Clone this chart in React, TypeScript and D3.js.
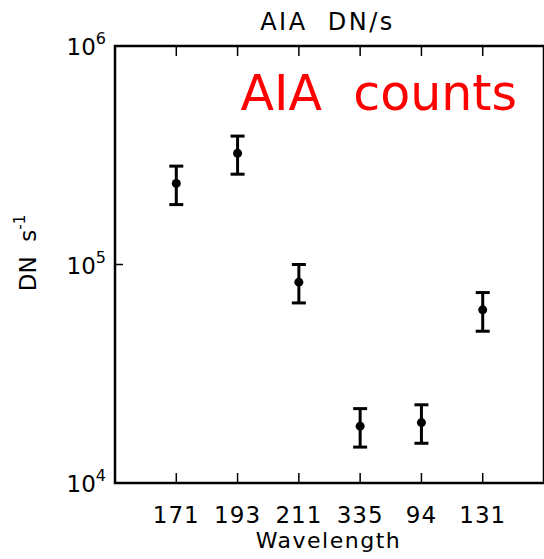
import * as d3 from "d3";

const wavelengths = ["171", "193", "211", "335", "94", "131"];
const counts = [2.35e5, 3.23e5, 8.3e4, 1.82e4, 1.89e4, 6.2e4];
const upper = [2.82e5, 3.87e5, 1.0e5, 2.19e4, 2.28e4, 7.44e4];
const lower = [1.88e5, 2.59e5, 6.67e4, 1.46e4, 1.52e4, 4.95e4];
const yTicks = [1e4, 1e5, 1e6];

const W = 544;
const H = 559;
const margin = { top: 46, right: 0, bottom: 76, left: 115 };
const font = "'DejaVu Sans', sans-serif";

export default function App() {
  const x = d3
    .scaleLinear()
    .domain([0, wavelengths.length + 1])
    .range([margin.left, W - margin.right]);
  const y = d3
    .scaleLog()
    .domain([1e4, 1e6])
    .range([H - margin.bottom, margin.top]);

  const left = x.range()[0];
  const right = x.range()[1];
  const top = y.range()[1];
  const bottom = y.range()[0];
  const midX = (left + right) / 2;

  return (
    <svg
      width={W}
      height={H}
      style={{ position: "absolute", left: 0, top: 0, background: "#fff" }}
      fontFamily={font}
    >
      <text x={midX - 2} y={30} textAnchor="middle" fontSize={24} letterSpacing={2.5} xmlSpace="preserve">
        {"AIA  DN/s"}
      </text>

      {/* frame */}
      <rect
        x={left}
        y={top}
        width={right - left}
        height={bottom - top}
        fill="none"
        stroke="#000"
        strokeWidth={2.5}
      />

      {/* x ticks top and bottom */}
      {wavelengths.map((w, i) => (
        <g key={w}>
          <line x1={x(i + 1)} x2={x(i + 1)} y1={bottom} y2={bottom - 10} stroke="#000" strokeWidth={1.5} />
          <line x1={x(i + 1)} x2={x(i + 1)} y1={top} y2={top + 10} stroke="#000" strokeWidth={1.5} />
          <text x={x(i + 1)} y={523} textAnchor="middle" fontSize={23} letterSpacing={1}>
            {w}
          </text>
        </g>
      ))}

      {/* y ticks */}
      {yTicks.map((t) => (
        <g key={t}>
          <line x1={left} x2={left + 8} y1={y(t)} y2={y(t)} stroke="#000" strokeWidth={1.5} />
          <text x={106} y={y(t) + 9} textAnchor="end" fontSize={23}>
            10
            <tspan fontSize={16} dy={-11}>
              {Math.log10(t)}
            </tspan>
          </text>
        </g>
      ))}

      <text x={midX - 1} y={548} textAnchor="middle" fontSize={22} letterSpacing={1.5}>
        Wavelength
      </text>

      <text transform={`translate(36,253) rotate(-90)`} textAnchor="middle" fontSize={23} xmlSpace="preserve">
        {"DN  s"}
        <tspan fontSize={15} dy={-11}>
          -1
        </tspan>
      </text>

      <text x={517} y={110} textAnchor="end" fontSize={49} fill="#ff0000" xmlSpace="preserve">
        {"AIA  counts"}
      </text>

      {/* error bars */}
      {counts.map((c, i) => {
        const cx = x(i + 1);
        return (
          <g key={i} stroke="#000" strokeWidth={3}>
            <line x1={cx} x2={cx} y1={y(upper[i])} y2={y(lower[i])} />
            <line x1={cx - 7} x2={cx + 7} y1={y(upper[i])} y2={y(upper[i])} />
            <line x1={cx - 7} x2={cx + 7} y1={y(lower[i])} y2={y(lower[i])} />
            <circle cx={cx} cy={y(c)} r={4.5} fill="#000" stroke="none" />
          </g>
        );
      })}
    </svg>
  );
}
